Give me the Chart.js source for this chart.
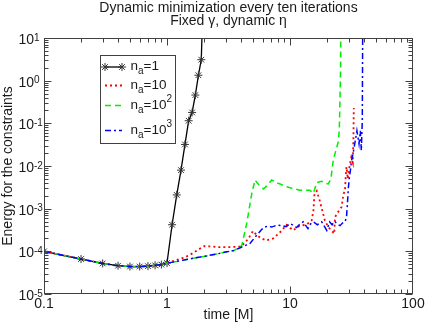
<!DOCTYPE html>
<html>
<head>
<meta charset="utf-8">
<script src="https://cdn.jsdelivr.net/npm/chart.js@4.4.1/dist/chart.umd.min.js"></script>
<style>
  html, body { margin: 0; padding: 0; background: #fff; }
  canvas { display: block; }
</style>
</head>
<body>
<canvas id="energyChart" width="427" height="327"></canvas>
<script>
// Dynamic minimization - energy for the constraints vs time (log-log)

// shared start of every run, t = 0.1 .. 1.0
const tEarly = [0.1, 0.2, 0.3, 0.4, 0.5, 0.6, 0.7, 0.8, 0.9, 1.0];
const eEarly = [1.0e-4, 6.6e-5, 5.2e-5, 4.6e-5, 4.4e-5, 4.4e-5, 4.5e-5, 4.7e-5, 4.9e-5, 5.3e-5];

// n_a = 1
const tNa1 = [1.1, 1.2, 1.3, 1.4, 1.5, 1.6, 1.7, 1.8, 1.9, 2.0];
const eNa1 = [4.2e-4, 2.1e-3, 8.0e-3, 3.2e-2, 0.115, 0.18, 0.46, 1.34, 3.1, 500];

// n_a = 10
const tNa10 = [1.1, 1.2, 1.35, 1.5, 1.65, 1.8, 2.0, 2.3, 2.7, 3.2, 3.7, 4.0,
  4.3, 4.6, 5.0, 5.3, 5.7, 6.4, 7.3, 8.3, 9.4, 10.6,
  12, 13.6, 15, 15.5, 15.8, 16.5, 17.5, 18.4, 19.2, 20.5,
  21.7, 22.9, 23.2, 24.7, 26.3, 27.2, 28, 28.4, 28.8, 29.5,
  30.5, 31.5, 32.4, 32.8, 33.0];
const eNa10 = [5.8e-5, 6.3e-5, 7.0e-5, 8.0e-5, 9.3e-5, 1.1e-4, 1.32e-4, 1.3e-4, 1.25e-4, 1.25e-4, 1.28e-4, 1.3e-4,
  1.6e-4, 2.0e-4, 3.0e-4, 2.5e-4, 2.1e-4, 1.8e-4, 2.0e-4, 2.8e-4, 4.2e-4, 3.1e-4,
  4.0e-4, 4.2e-4, 5.3e-4, 9.0e-4, 2.2e-3, 2.6e-3, 1.5e-3, 8.5e-4, 5.3e-4, 3.7e-4,
  3.1e-4, 2.6e-4, 6.3e-4, 8.5e-4, 1.1e-3, 2.2e-3, 2.6e-3, 6.0e-3, 9.5e-3, 5.0e-3,
  1.0e-2, 1.6e-2, 1.2e-2, 5.0e-2, 0.23];

// n_a = 10^2
const tNa100 = [1.2, 1.5, 2.0, 2.5, 3.0, 3.5, 4.05, 4.44, 4.88, 5.19,
  5.6, 6.07, 6.6, 7.1, 7.7, 8.3, 9.0, 10, 11, 12,
  13.2, 14.5, 15.5, 16.5, 18.1, 19.3, 20.5, 21.5, 22.5, 23.7,
  24.8, 25.2, 25.5, 25.8, 26];
const eNa100 = [5.8e-5, 6.6e-5, 7.6e-5, 8.6e-5, 9.6e-5, 1.05e-4, 1.35e-4, 4.4e-4, 2.2e-3, 4.7e-3,
  3.6e-3, 2.9e-3, 3.6e-3, 4.7e-3, 4.1e-3, 3.8e-3, 3.4e-3, 3.1e-3, 2.9e-3, 2.7e-3,
  2.7e-3, 2.7e-3, 2.3e-3, 4.1e-3, 4.4e-3, 3.9e-3, 3.8e-3, 5.0e-3, 1.4e-2, 2.4e-2,
  3.9e-2, 8.0e-2, 0.4, 2.4, 500];

// n_a = 10^3
const tNa1000 = [1.2, 1.5, 2.0, 2.5, 3.0, 3.5, 3.9, 4.4, 4.7, 5.1,
  5.5, 6.07, 6.6, 7.1, 7.8, 8.6, 9.3, 10, 10.6, 11.3,
  12, 12.8, 14.0, 14.7, 15.5, 16.7, 18.1, 19.9, 21.0, 22.0,
  23.0, 24.2, 25.5, 26.7, 28.0, 28.8, 29.3, 29.8, 30.4, 31,
  31.6, 32.6, 33.6, 35.0, 36.4, 37.3, 38.0, 38.7, 39.2];
const eNa1000 = [5.8e-5, 6.6e-5, 7.6e-5, 8.6e-5, 9.6e-5, 1.05e-4, 1.2e-4, 1.4e-4, 1.5e-4, 2.0e-4,
  2.6e-4, 3.6e-4, 3.9e-4, 3.7e-4, 4.1e-4, 4.0e-4, 3.8e-4, 4.5e-4, 4.1e-4, 3.6e-4,
  4.3e-4, 4.9e-4, 3.4e-4, 4.4e-4, 4.9e-4, 4.2e-4, 4.9e-4, 3.1e-4, 4.9e-4, 4.2e-4,
  5.1e-4, 4.4e-4, 4.0e-4, 4.6e-4, 4.9e-4, 6.3e-4, 1.3e-3, 3.0e-3, 5.5e-3, 8.0e-3,
  1.3e-2, 2.0e-2, 3.3e-2, 6.7e-2, 3.3e-2, 6.7e-2, 2.3e-2, 0.115, 500];

const xTickVals = [0.1, 1, 10, 100];
const xTickLabels = ['0.1', '1', '10', '100'];
const yTickExps = [1, 0, -1, -2, -3, -4, -5];

const FONT = '"Liberation Sans", Arial, Helvetica, sans-serif';
const INK = '#1a1a1a';
const FRAME = '#404040';

function toPoints(ts, es) {
  return ts.map((t, i) => ({ x: t, y: es[i] }));
}

// text with sub / superscript pieces
function drawRich(ctx, parts, x, y, size) {
  let cx = x;
  ctx.textAlign = 'left';
  ctx.textBaseline = 'alphabetic';
  parts.forEach((p) => {
    const s = p.sub || p.sup ? Math.round(size * 0.72) : size;
    ctx.font = s + 'px ' + FONT;
    const dy = p.sub ? size * 0.3 : (p.sup ? -size * 0.45 : 0);
    ctx.fillText(p.t, cx, y + dy);
    cx += ctx.measureText(p.t).width;
  });
}

function drawStar(ctx, x, y, r) {
  const d = r * Math.SQRT1_2;
  ctx.beginPath();
  ctx.moveTo(x - r, y); ctx.lineTo(x + r, y);
  ctx.moveTo(x, y - r); ctx.lineTo(x, y + r);
  ctx.moveTo(x - d, y - d); ctx.lineTo(x + d, y + d);
  ctx.moveTo(x - d, y + d); ctx.lineTo(x + d, y - d);
  ctx.stroke();
}

const styles = [
  { color: '#000000', dash: [], width: 1.3, star: true },
  { color: '#ff0000', dash: [2, 3], width: 1.8 },
  { color: '#00ee00', dash: [6, 4], width: 1.5 },
  { color: '#0000ff', dash: [6, 3, 2, 3], width: 1.5 },
];

const legendRows = [
  [{ t: 'n' }, { t: 'a', sub: true }, { t: '=1' }],
  [{ t: 'n' }, { t: 'a', sub: true }, { t: '=10' }],
  [{ t: 'n' }, { t: 'a', sub: true }, { t: '=10' }, { t: '2', sup: true }],
  [{ t: 'n' }, { t: 'a', sub: true }, { t: '=10' }, { t: '3', sup: true }],
];
const legendLineY = [67, 85.5, 105.5, 130.5];

const framePlugin = {
  id: 'frame',
  afterDraw(chart) {
    const ctx = chart.ctx;
    const a = chart.chartArea;
    const xs = chart.scales.x;
    const ys = chart.scales.y;
    const L = Math.round(a.left) + 0.5, R = Math.round(a.right) - 0.5;
    const T = Math.round(a.top) + 0.5, B = Math.round(a.bottom) - 0.5;

    ctx.save();
    ctx.strokeStyle = FRAME;
    ctx.lineWidth = 1;
    ctx.setLineDash([]);
    ctx.strokeRect(L, T, R - L, B - T);

    // ticks on all four sides
    ctx.beginPath();
    for (let k = -1; k <= 1; k++) {
      for (let m = 1; m <= 9; m++) {
        const px = Math.round(xs.getPixelForValue(m * Math.pow(10, k))) + 0.5;
        const len = m === 1 ? 7 : 4;
        ctx.moveTo(px, B); ctx.lineTo(px, B - len);
        ctx.moveTo(px, T); ctx.lineTo(px, T + len);
      }
    }
    for (let k = -5; k <= 0; k++) {
      for (let m = 1; m <= 9; m++) {
        const py = Math.round(ys.getPixelForValue(m * Math.pow(10, k))) + 0.5;
        const len = m === 1 ? 7 : 4;
        ctx.moveTo(L, py); ctx.lineTo(L + len, py);
        ctx.moveTo(R, py); ctx.lineTo(R - len, py);
      }
    }
    ctx.stroke();

    ctx.fillStyle = INK;
    // x tick labels
    ctx.font = '14px ' + FONT;
    ctx.textAlign = 'center';
    ctx.textBaseline = 'alphabetic';
    xTickVals.forEach((v, i) => {
      ctx.fillText(xTickLabels[i], xs.getPixelForValue(v), a.bottom + 14);
    });

    // y tick labels: 10 with exponent
    yTickExps.forEach((e) => {
      const py = ys.getPixelForValue(Math.pow(10, e));
      ctx.font = '14px ' + FONT;
      ctx.textAlign = 'right';
      ctx.fillText('10', 34, py + 6);
      ctx.font = '10px ' + FONT;
      ctx.textAlign = 'left';
      ctx.fillText(String(e), 34, py + 2.5);
    });

    // axis titles
    ctx.font = '14px ' + FONT;
    ctx.textAlign = 'center';
    ctx.textBaseline = 'middle';
    ctx.fillText('time [M]', (a.left + a.right) / 2, 315.5);
    ctx.save();
    ctx.translate(8.5, (a.top + a.bottom) / 2);
    ctx.rotate(-Math.PI / 2);
    ctx.fillText('Energy for the constraints', 0, 0);
    ctx.restore();

    // legend
    const bx = 100.5, by = 55.5, bw = 75, bh = 88;
    ctx.fillStyle = '#ffffff';
    ctx.fillRect(bx, by, bw, bh);
    ctx.strokeStyle = FRAME;
    ctx.lineWidth = 1;
    ctx.strokeRect(bx, by, bw, bh);
    legendRows.forEach((parts, i) => {
      const st = styles[i];
      const y = legendLineY[i];
      ctx.strokeStyle = st.color;
      ctx.lineWidth = st.width;
      ctx.setLineDash(st.dash);
      ctx.beginPath();
      ctx.moveTo(105, y); ctx.lineTo(122, y);
      ctx.stroke();
      ctx.setLineDash([]);
      if (st.star) {
        ctx.strokeStyle = '#333';
        ctx.lineWidth = 1;
        drawStar(ctx, 105, y, 4);
        drawStar(ctx, 122, y, 4);
      }
      ctx.fillStyle = INK;
      drawRich(ctx, parts, 130.5, y + 3, 13.5);
    });
    ctx.restore();
  }
};

function makeSet(label, ts, es, st, order) {
  return {
    label: label,
    data: toPoints(tEarly.concat(ts), eEarly.concat(es)),
    borderColor: st.color,
    backgroundColor: st.color,
    borderWidth: st.width,
    borderDash: st.dash,
    tension: 0,
    fill: false,
    pointRadius: 0,
    order: order,
  };
}

const black = makeSet('n_a=1', tNa1, eNa1, styles[0], 3);
black.pointStyle = 'star';
black.pointRadius = 4;
black.pointBorderColor = '#333';
black.pointBorderWidth = 1;

new Chart(document.getElementById('energyChart').getContext('2d'), {
  type: 'line',
  data: {
    datasets: [
      black,
      makeSet('n_a=10', tNa10, eNa10, styles[1], 2),
      makeSet('n_a=10^2', tNa100, eNa100, styles[2], 1),
      makeSet('n_a=10^3', tNa1000, eNa1000, styles[3], 0),
    ]
  },
  options: {
    responsive: false,
    animation: false,
    devicePixelRatio: 1,
    layout: { padding: { left: 44, right: 14, top: 0, bottom: 33 } },
    plugins: {
      legend: { display: false },
      tooltip: { enabled: false },
      title: {
        display: true,
        text: ['Dynamic minimization every ten iterations', 'Fixed \u03b3, dynamic \u03b7'],
        color: INK,
        font: { family: FONT, size: 14, weight: 'normal', lineHeight: 0.9 },
        padding: { top: 2.2, bottom: 10.6 }
      }
    },
    scales: {
      x: { type: 'logarithmic', min: 0.1, max: 100, display: false },
      y: { type: 'logarithmic', min: 1e-5, max: 10, display: false }
    }
  },
  plugins: [framePlugin]
});
</script>
</body>
</html>
